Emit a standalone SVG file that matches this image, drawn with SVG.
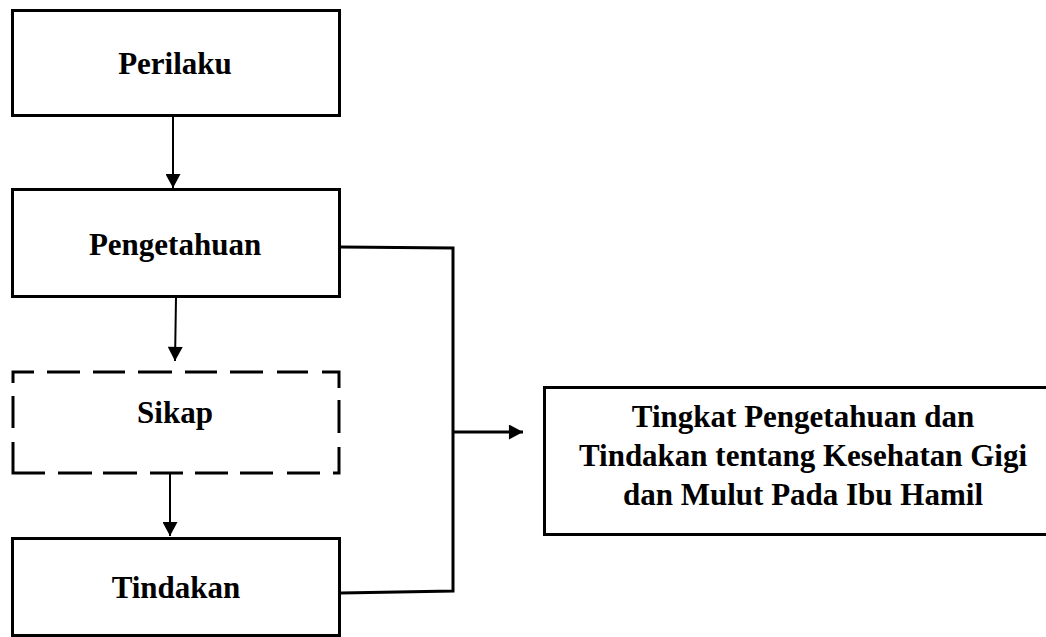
<svg xmlns="http://www.w3.org/2000/svg" width="1046" height="637" viewBox="0 0 1046 637">
<style>
.box{fill:#fff;stroke:#000;stroke-width:3}
.dash{stroke:#000;stroke-width:3;fill:none;stroke-linecap:butt}
.lbl{font-family:"Liberation Serif","Times New Roman",serif;font-weight:bold;font-size:31px;fill:#000;text-anchor:middle}
.conn{stroke:#000;stroke-width:2;fill:none}
.conn3{stroke:#000;stroke-width:3;fill:none}
</style>
<defs>
<marker id="ah" markerWidth="17" markerHeight="15" refX="15" refY="8" orient="auto" markerUnits="userSpaceOnUse" viewBox="0 0 17 16">
<path d="M0,0 L15,8 L0,16 Z" fill="#000"/>
</marker>
</defs>
<rect width="1046" height="637" fill="#fff"/>
<g id="connectors">
<line class="conn" x1="173" y1="117" x2="173" y2="188" marker-end="url(#ah)"/>
<line class="conn" x1="176" y1="298" x2="175" y2="361" marker-end="url(#ah)"/>
<line class="conn" x1="170" y1="474" x2="170" y2="536" marker-end="url(#ah)"/>
<polyline class="conn3" points="341,247 453,248 453,591 341,593"/>
<line class="conn3" x1="453" y1="432" x2="523" y2="432" marker-end="url(#ah)"/>
</g>
<g id="perilaku">
<rect class="box" x="12.5" y="10.5" width="327" height="105"/>
<text class="lbl" x="175" y="74">Perilaku</text>
</g>
<g id="pengetahuan">
<rect class="box" x="12.5" y="189.5" width="327" height="107"/>
<text class="lbl" x="175" y="255">Pengetahuan</text>
</g>
<g id="sikap">
<path class="dash" d="M13,383 V372 H34 M47,372 H80 M93,372 H125 M138,372 H172 M185,372 H217 M230,372 H263 M277,372 H308 M322,372 H339 V388 M13,396 V428 M13,442 V473 H45 M58,473 H92 M103,473 H137 M150,473 H183 M195,473 H228 M240,473 H273 M287,473 H320 M333,473 H339 V447 M339,400 V433"/>
<text class="lbl" x="175" y="423">Sikap</text>
</g>
<g id="tindakan">
<rect class="box" x="12.5" y="538.5" width="327" height="97"/>
<text class="lbl" x="176" y="598">Tindakan</text>
</g>
<g id="tingkat">
<rect class="box" x="544.5" y="387.5" width="510" height="147"/>
<text class="lbl" x="803" y="427">Tingkat Pengetahuan dan</text>
<text class="lbl" x="803" y="466">Tindakan tentang Kesehatan Gigi</text>
<text class="lbl" x="803" y="505">dan Mulut Pada Ibu Hamil</text>
</g>
</svg>
